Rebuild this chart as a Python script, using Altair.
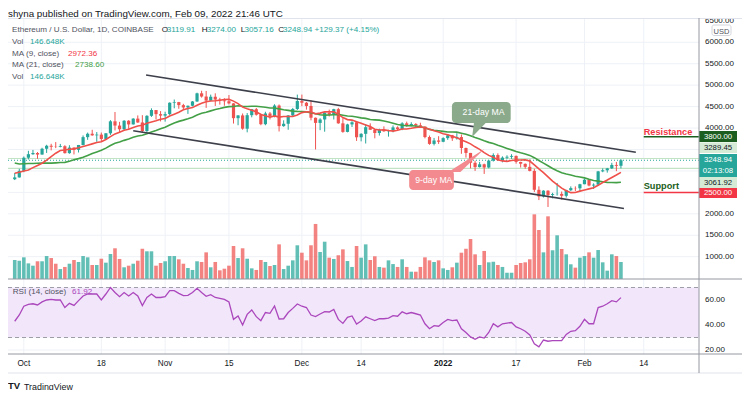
import altair as alt
import pandas as pd

# ---------------- data ----------------
first_day = "2021-09-29"
pre_first_day = "2021-09-09"
# closes before the first visible candle (only used for the moving averages)
pre_closes = [3425, 3210, 3265, 3410, 3285, 3430, 3610, 3575, 3400, 3435,
              3335, 2975, 2760, 3075, 3155, 2930, 2925, 3065, 2935, 2807]

opens = [2807, 2849,
         3001, 3308, 3390, 3418, 3382, 3517, 3587, 3563, 3558, 3576, 3415, 3544, 3492, 3605, 3788, 3867,
         3830, 3847, 3746, 3878, 4157, 4058, 3972, 4170, 4085, 4220, 4130, 3930, 4285, 4420, 4325,
         4290, 4325, 4590, 4605, 4535, 4480, 4520, 4620, 4810, 4735, 4640, 4730, 4665, 4645, 4625,
         4575, 4230, 4295, 3985, 4300, 4440, 4310, 4090, 4340, 4270, 4525, 4045, 4100, 4295, 4445,
         4630, 4590, 4515, 4240, 4120, 4200, 4360, 4310, 4440, 4110, 3910, 4085, 4135, 3785, 3865,
         4020, 3960, 3885, 3960, 3925, 3940, 4015, 3975, 4110, 4045, 4095, 4065, 4035, 3790, 3630, 3710,
         3680, 3765, 3830, 3760, 3790, 3535, 3420, 3190, 3090, 3155, 3080, 3240, 3370, 3250, 3310,
         3330, 3350, 3210, 3165, 3095, 3000, 2560, 2405, 2540, 2440, 2460, 2465, 2420, 2550, 2600, 2595,
         2690, 2795, 2660, 2680, 2990, 3015, 3060, 3140, 3119.91]
highs = [2952, 3050,
         3337, 3470, 3490, 3440, 3540, 3610, 3633, 3673, 3630, 3600, 3600, 3550, 3606, 3828, 3894, 3960,
         3907, 3895, 3880, 4185, 4375, 4145, 4185, 4185, 4230, 4295, 4300, 4300, 4460, 4420, 4395,
         4380, 4600, 4665, 4610, 4565, 4525, 4630, 4825, 4870, 4865, 4780, 4810, 4705, 4695, 4770,
         4580, 4300, 4340, 4350, 4440, 4470, 4340, 4380, 4375, 4555, 4550, 4180, 4300, 4470, 4780,
         4780, 4610, 4650, 4245, 4230, 4360, 4430, 4450, 4470, 4230, 4100, 4160, 4160, 3880, 4095,
         4110, 3965, 3985, 4040, 3960, 4060, 4040, 4135, 4150, 4135, 4115, 4125, 4040, 3825, 3770, 3810,
         3785, 3860, 3840, 3880, 3850, 3545, 3420, 3240, 3210, 3170, 3260, 3410, 3410, 3340, 3365,
         3390, 3360, 3215, 3175, 3270, 3050, 2640, 2550, 2550, 2490, 2720, 2520, 2560, 2640, 2640, 2700,
         2820, 2810, 2710, 3000, 3060, 3070, 3190, 3210, 3274.00]
lows = [2787, 2843,
        2970, 3267, 3375, 3283, 3378, 3420, 3480, 3532, 3550, 3405, 3400, 3385, 3430, 3596, 3725, 3820,
        3680, 3685, 3730, 3840, 3945, 3900, 3932, 3980, 4080, 4120, 3900, 3890, 4260, 4200, 4155,
        4150, 4300, 4460, 4450, 4430, 4330, 4505, 4610, 4710, 4470, 4630, 4515, 4545, 4520, 4550,
        4105, 4065, 3960, 3900, 4250, 4290, 4065, 4065, 4200, 4250, 3920, 4030, 3960, 4280, 4420,
        4510, 4430, 4180, 3500, 3950, 3915, 4270, 4200, 4100, 3890, 3900, 4025, 3700, 3690, 3640,
        3960, 3760, 3825, 3910, 3800, 3900, 3950, 3950, 4030, 4040, 4000, 4030, 3760, 3610, 3595, 3630,
        3670, 3725, 3700, 3730, 3400, 3310, 3060, 3000, 3080, 2930, 3060, 3220, 3235, 3200, 3275,
        3280, 3170, 3080, 3050, 2990, 2510, 2320, 2380, 2160, 2360, 2425, 2330, 2380, 2530, 2530, 2525,
        2690, 2640, 2580, 2660, 2970, 2960, 3045, 2995, 3057.16]
closes = [2849, 3001,
          3308, 3390, 3418, 3382, 3517, 3587, 3563, 3558, 3576, 3415, 3544, 3492, 3605, 3788, 3867, 3830,
          3847, 3746, 3878, 4157, 4058, 3972, 4170, 4085, 4220, 4130, 3930, 4285, 4420, 4325, 4290,
          4325, 4590, 4605, 4535, 4480, 4520, 4620, 4810, 4735, 4640, 4730, 4665, 4645, 4625, 4575,
          4230, 4295, 3985, 4300, 4440, 4310, 4090, 4340, 4270, 4525, 4045, 4100, 4295, 4445, 4630,
          4590, 4515, 4240, 4120, 4200, 4360, 4310, 4440, 4110, 3910, 4085, 4135, 3785, 3865, 4020,
          3960, 3885, 3960, 3925, 3940, 4015, 3975, 4110, 4045, 4095, 4065, 4035, 3790, 3630, 3710, 3680,
          3765, 3830, 3760, 3790, 3535, 3420, 3190, 3090, 3155, 3080, 3240, 3370, 3250, 3310, 3330,
          3350, 3210, 3165, 3095, 3000, 2560, 2405, 2540, 2440, 2460, 2465, 2420, 2550, 2600, 2595, 2690,
          2795, 2660, 2680, 2990, 3015, 3060, 3140, 3119.91, 3248.94]
volumes_k = [164, 158, 187, 135, 115, 153, 153, 198, 181, 132,
             86, 104, 132, 164, 147, 198, 187, 121, 121, 175,
             141, 216, 265, 173, 101, 115, 132, 158, 261, 239,
             239, 115, 138, 153, 198, 198, 170, 132, 95, 78,
             153, 147, 230, 101, 147, 75, 89, 115, 285, 181,
             265, 175, 92, 78, 164, 147, 112, 121, 299, 86,
             115, 161, 291, 227, 161, 291, 475, 233, 322, 184,
             173, 205, 256, 155, 104, 285, 184, 299, 164, 196,
             104, 98, 161, 129, 104, 170, 104, 63, 63, 104,
             187, 161, 147, 161, 92, 78, 101, 141, 227, 261,
             345, 213, 121, 242, 144, 149, 121,
             104, 54, 54, 121, 138, 144, 170, 558, 423, 230,
             541, 248, 377, 259, 213, 127, 98, 184, 198, 230,
             184, 250, 144, 72, 213, 198, 146.648]
rsi_values = [43, 48, 55, 56.5, 57, 56, 58.5, 60, 60.5, 60,
              60, 54, 57.3, 55.7, 59.5, 63.2, 64.8, 64.8, 64.8, 60,
              64.8, 70, 66, 62.7, 66, 63.2, 66, 63.2, 55.5, 62,
              64.8, 62, 62, 62.7, 67.5, 67.5, 65.3, 63.5, 63.7, 66,
              69.3, 66, 63, 64.3, 62, 61.3, 60.5, 58.4, 44.5, 47.2,
              40, 48.5, 52, 46.7, 43.5, 50, 49.3, 55.2, 44.8, 45,
              50, 53.3, 56.8,
              55, 54, 48, 46.7, 48.8, 50.7, 50.4, 52.5, 44.5, 41.3,
              46.1, 47.2, 40.8, 43.2, 46.5, 45, 43.5, 45, 45, 45.5,
              47.5, 47, 50.5, 49, 50, 49, 48, 41, 37, 39.5,
              39, 42, 44.5, 43.5, 44, 37, 34, 30.5, 28.5, 30.5,
              29.5, 34, 41, 38.5, 41, 41.5, 42, 38.5, 37, 35,
              32, 25, 22.5, 28, 27, 27.5, 27.5, 27.5, 32.5, 35,
              35.5, 39, 44.5, 41, 41, 54, 55, 57, 59.5, 58.5, 61.92]

tick_dates = ["2021-10-01", "2021-10-18", "2021-11-01", "2021-11-15", "2021-12-01",
              "2021-12-14", "2022-01-01", "2022-01-17", "2022-02-01", "2022-02-14"]
tick_labels = ["Oct", "18", "Nov", "15", "Dec", "14", "2022", "17", "Feb", "14"]
tick_weights = ["normal"] * 6 + ["bold"] + ["normal"] * 3
# price labels that are not hidden behind the coloured price tags
price_ticks = [1000, 1500, 2000, 4000, 4500, 5000, 5500, 6000, 6500]
price_grid = [1000, 1500, 2000, 2500, 3000, 3500, 4000, 4500, 5000, 5500, 6000]
rsi_ticks = [20, 40, 60]

channel_ids = ["upper", "upper", "lower", "lower"]
channel_dates = ["2021-10-27T19:30:00Z", "2022-02-12T06:30:00Z",
                 "2021-10-25T00:00:00Z", "2022-02-09T16:00:00Z"]
channel_prices = [5237, 3435, 3938, 2124]

# right-hand price tags: value text, displayed price, box top, box bottom, fill, text colour
tag_texts = ["3800.00", "3289.45", "3248.94", "3061.92", "2500.00"]
tag_centers = [3800, 3542, 3249, 2730, 2486]
tag_tops = [3931, 3663, 3395, 2859, 2602]
tag_bottoms = [3675, 3418, 2859, 2602, 2369]
tag_fills = ["#1b5e20", "#d5ebd6", "#26a69a", "#d5ebd6", "#f23645"]
tag_colors = ["#ffffff", "#131722", "#ffffff", "#131722", "#ffffff"]

# ---------------- geometry / scales ----------------
W, H = 691, 335
FONT = "Liberation Sans"
xs = alt.Scale(type="utc", nice=False,
               domain=[alt.DateTime(year=2021, month=9, date=28, hours=14, minutes=56, utc=True),
                       alt.DateTime(year=2022, month=2, date=25, hours=0, minutes=43, utc=True)])
ps = alt.Scale(domain=[480, 6543], range=[260, 0], nice=False, zero=False)
vs = alt.Scale(domain=[0, 2244], range=[260, 0], nice=False)
rs = alt.Scale(domain=[16.8, 76.8], range=[335, 260], nice=False, zero=False)

UP, DOWN = "#26a69a", "#ef5350"


def X(field="date"):
    return alt.X(f"{field}:T", scale=xs, axis=None)


def PY(field):
    return alt.Y(f"{field}:Q", scale=ps, axis=None)


def RY(field):
    return alt.Y(f"{field}:Q", scale=rs, axis=None)


dates = pd.date_range(first_day, periods=len(closes), freq="D").strftime("%Y-%m-%d")
candles = pd.DataFrame({"date": dates, "open": opens, "high": highs, "low": lows,
                        "close": closes, "vol": volumes_k, "rsi": rsi_values})
candles["col"] = [UP if c >= o else DOWN for o, c in zip(opens, closes)]

all_closes = pre_closes + closes
ma_df = pd.DataFrame({
    "date": pd.date_range(pre_first_day, periods=len(all_closes), freq="D").strftime("%Y-%m-%d"),
    "close": all_closes, "idx": list(range(len(all_closes)))})

one = pd.DataFrame({"k": [0]})


def label(text, x, y, color, size=8.1, weight="normal", align="left", baseline="alphabetic"):
    return alt.Chart(one).mark_text(text=text, color=color, fontSize=size, fontWeight=weight,
                                    align=align, baseline=baseline, font=FONT).encode(
        x=alt.value(x), y=alt.value(y))


def pline(x, x2, y, color, width=1.0):
    return alt.Chart(one).mark_rule(color=color, strokeWidth=width).encode(
        x=alt.value(x), x2=alt.value(x2), y=alt.value(y))


# ---------- 1. vertical grid ----------
ticks_df = pd.DataFrame({"date": tick_dates, "lab": tick_labels, "w": tick_weights})
vgrid = alt.Chart(ticks_df).mark_rule(color="#eef1f6", strokeWidth=1).encode(
    x=X(), y=alt.value(0), y2=alt.value(H))

# ---------- 2. price grid + level lines ----------
pg_df = pd.DataFrame({"p": price_grid})
levels_df = pd.DataFrame({"p": [3289.45, 3061.92]})
pgrid = alt.layer(
    alt.Chart(pg_df).mark_rule(color="#eef1f6", strokeWidth=1).encode(
        x=alt.value(0), x2=alt.value(W), y=PY("p")),
    alt.Chart(levels_df).mark_rule(color="#c3e3c5", strokeWidth=1.2).encode(
        x=alt.value(0), x2=alt.value(W), y=PY("p")),
    alt.Chart(pd.DataFrame({"p": [3248.94]})).mark_rule(
        color="#26a69a", strokeWidth=1, strokeDash=[1, 2]).encode(
        x=alt.value(0), x2=alt.value(W), y=PY("p")),
)

# ---------- 3. RSI panel ----------
band_df = pd.DataFrame({"lo": [30], "hi": [70]})
dash_df = pd.DataFrame({"v": [30, 70]})
rgrid_df = pd.DataFrame({"v": rsi_ticks})
rsi_group = alt.layer(
    alt.Chart(rgrid_df).mark_rule(color="#eef1f6").encode(
        x=alt.value(0), x2=alt.value(W), y=RY("v")),
    alt.Chart(band_df).mark_rect(color="#f2e6fb").encode(
        x=alt.value(0), x2=alt.value(W), y=RY("hi"), y2="lo:Q"),
    alt.Chart(dash_df).mark_rule(color="#9e9ea8", strokeDash=[4, 3], strokeWidth=1).encode(
        x=alt.value(0), x2=alt.value(W), y=RY("v")),
    alt.Chart(candles).mark_line(color="#ab47bc", strokeWidth=1.3).encode(x=X(), y=RY("rsi")),
    alt.Chart(rgrid_df).mark_text(align="left", baseline="middle", fontSize=8, color="#131722",
                                  font=FONT).encode(
        x=alt.value(W + 6), y=RY("v"), text=alt.Text("v:Q", format=".2f")),
)

# ---------- 4. volume ----------
vol_group = alt.Chart(candles).mark_bar(size=3.6, opacity=0.72).encode(
    x=X(), y=alt.Y("vol:Q", scale=vs, axis=None), color=alt.Color("col:N", scale=None))

# ---------- 5. price ----------
wicks = alt.Chart(candles).mark_rule(strokeWidth=1).encode(
    x=X(), y=PY("low"), y2="high:Q", color=alt.Color("col:N", scale=None))
bodies = alt.Chart(candles).mark_bar(size=3.2).encode(
    x=X(), y=PY("open"), y2="close:Q", color=alt.Color("col:N", scale=None))
ma9 = alt.Chart(ma_df).transform_window(
    ma9="mean(close)", frame=[-8, 0], sort=[alt.SortField("idx")]).transform_filter(
    "datum.idx >= 20").mark_line(color="#f0504a", strokeWidth=1.6).encode(x=X(), y=PY("ma9"))
ma21 = alt.Chart(ma_df).transform_window(
    ma21="mean(close)", frame=[-20, 0], sort=[alt.SortField("idx")]).transform_filter(
    "datum.idx >= 20").mark_line(color="#43a047", strokeWidth=1.6).encode(x=X(), y=PY("ma21"))
channel_df = pd.DataFrame({"id": channel_ids, "date": channel_dates, "p": channel_prices})
channel = alt.Chart(channel_df).mark_line(color="#3d404a", strokeWidth=1.6).encode(
    x=X(), y=PY("p"), detail="id:N")

box_df = pd.DataFrame({
    "d1": ["2022-01-02T22:05:00Z", "2021-12-24T13:00:00Z"],
    "d2": ["2022-01-15T19:26:00Z", "2022-01-03T08:24:00Z"],
    "p1": [4608, 3022], "p2": [4118, 2556],
    "fill": ["#8ba98b", "#f28a8f"]})
boxes = alt.Chart(box_df).mark_rect(cornerRadius=4).encode(
    x=alt.X("d1:T", scale=xs, axis=None), x2="d2:T", y=PY("p1"), y2="p2:Q",
    color=alt.Color("fill:N", scale=None))
ptr21 = alt.Chart(pd.DataFrame({"date": ["2022-01-09T00:00:00Z"], "p": [3966]})).mark_point(
    shape="M -0.69 -1 L 0.94 -1 L -0.94 0.94 Z", size=256, filled=True, opacity=1,
    color="#8ba98b", strokeWidth=0).encode(x=X(), y=PY("p"))
ptr9 = alt.Chart(pd.DataFrame({"date": ["2022-01-06T02:00:00Z"], "p": [3255]})).mark_point(
    shape="M -1 0.66 L -0.33 0.66 L 1 -0.61 Z", size=1296, filled=True, opacity=1,
    color="#f28a8f", strokeWidth=0).encode(x=X(), y=PY("p"))
box_text_df = pd.DataFrame({"date": ["2022-01-09T20:40:00Z", "2021-12-29T22:50:00Z"],
                            "p": [4363, 2791], "t": ["21-day MA", "9-day MA"]})
box_texts = alt.Chart(box_text_df).mark_text(color="white", fontSize=8.7, baseline="middle",
                                             align="center", font=FONT).encode(
    x=X(), y=PY("p"), text="t:N")

sr_df = pd.DataFrame({"date": ["2022-02-14", "2022-02-14"], "p": [3800, 2500],
                      "c": ["#1b5e20", "#f23645"]})
sr_lines = alt.Chart(sr_df).mark_rule(strokeWidth=1.5).encode(
    x=X(), x2=alt.value(W), y=PY("p"), color=alt.Color("c:N", scale=None))
sr_text_df = pd.DataFrame({"date": ["2022-02-14", "2022-02-14"], "p": [3848, 2579],
                           "t": ["Resistance", "Support"], "c": ["#f23645", "#1b5e20"]})
sr_texts = alt.Chart(sr_text_df).mark_text(fontSize=9.2, fontWeight="bold", align="left",
                                           baseline="alphabetic", font=FONT).encode(
    x=X(), y=PY("p"), text="t:N", color=alt.Color("c:N", scale=None))

ptick_df = pd.DataFrame({"p": price_ticks})
price_labels = alt.Chart(ptick_df).mark_text(align="left", baseline="middle", fontSize=8,
                                             color="#131722", font=FONT).encode(
    x=alt.value(W + 6), y=PY("p"), text=alt.Text("p:Q", format=".2f"))

tags_df = pd.DataFrame({"t": tag_texts, "pc": tag_centers, "pt": tag_tops, "pb": tag_bottoms,
                        "f": tag_fills, "tc": tag_colors})
tag_boxes = alt.Chart(tags_df).mark_rect().encode(
    x=alt.value(W), x2=alt.value(W + 38), y=PY("pt"), y2="pb:Q",
    color=alt.Color("f:N", scale=None))
tag_texts_l = alt.Chart(tags_df).mark_text(align="center", baseline="middle", fontSize=7.8,
                                           font=FONT).encode(
    x=alt.value(W + 19), y=PY("pc"), text="t:N", color=alt.Color("tc:N", scale=None))
timer = alt.Chart(pd.DataFrame({"p": [2987], "t": ["02:13:08"]})).mark_text(
    align="center", baseline="middle", fontSize=7.8, color="white", font=FONT).encode(
    x=alt.value(W + 19), y=PY("p"), text="t:N")

price_group = alt.layer(wicks, bodies, ma21, ma9, channel, boxes, ptr21, ptr9, box_texts,
                        sr_lines, sr_texts, price_labels, tag_boxes, tag_texts_l, timer)

# ---------- 6. overlay: frame, legends, time labels ----------
GRAY, TEAL = "#50535e", "#26a69a"
time_normal = alt.Chart(ticks_df).transform_filter("datum.w == 'normal'").mark_text(
    baseline="middle", align="center", fontSize=8.2, color="#131722", font=FONT).encode(
    x=X(), y=alt.value(345), text="lab:N")
time_bold = alt.Chart(ticks_df).transform_filter("datum.w == 'bold'").mark_text(
    baseline="middle", align="center", fontSize=8.2, color="#131722", font=FONT,
    fontWeight="bold").encode(x=X(), y=alt.value(345), text="lab:N")

usd_box = alt.Chart(one).mark_rect(fill="white", stroke="#c9ccd4", strokeWidth=0.8,
                                   cornerRadius=2).encode(
    x=alt.value(W + 13), x2=alt.value(W + 32), y=alt.value(6), y2=alt.value(16.5))

overlay = alt.layer(
    pline(0, W + 43, -0.5, "#e0e3eb"),
    pline(0, W + 43, 354, "#e0e3eb"),
    pline(0, W + 43, 260, "#9598a1"),
    pline(0, W + 43, 335, "#9598a1"),
    alt.Chart(one).mark_rule(color="#9598a1", strokeWidth=1).encode(
        x=alt.value(W), y=alt.value(-1), y2=alt.value(354)),
    usd_box,
    label("USD", W + 22.5, 14.5, "#50535e", size=7.5, align="center"),
    time_normal, time_bold,
    label("shyna published on TradingView.com, Feb 09, 2022 21:46 UTC", 0, -2.2, "#131722",
          size=9.8),
    label("Ethereum / U.S. Dollar, 1D, COINBASE", 4, 13, GRAY),
    label("O", 153.7, 13, "#131722"), label("3119.91", 158.7, 13, TEAL),
    label("H", 193.7, 13, "#131722"), label("3274.00", 198.7, 13, TEAL),
    label("L", 232.7, 13, "#131722"), label("3057.16", 236.5, 13, TEAL),
    label("C", 270.3, 13, "#131722"), label("3248.94 +129.37 (+4.15%)", 275, 13, TEAL),
    label("Vol", 4, 25, GRAY), label("146.648K", 22, 25, TEAL),
    label("MA (9, close)", 4, 36.7, GRAY), label("2972.36", 60, 36.7, "#f23645"),
    label("MA (21, close)", 4, 48.3, GRAY), label("2738.60", 67, 48.3, "#43a047"),
    label("Vol", 4, 60, GRAY), label("146.648K", 22, 60, TEAL),
    label("RSI (14, close)", 4.7, 274.5, GRAY), label("61.92", 64, 274.5, "#ab47bc"),
    label("TV", 0, 370, "#131722", size=9.5, weight="bold"),
    label("TradingView", 16, 370.5, "#131722", size=8.9),
)

chart = alt.layer(vgrid, pgrid, rsi_group, vol_group, price_group, overlay).resolve_scale(
    y="independent").properties(
    width=W, height=H,
    autosize=alt.AutoSizeParams(type="none"),
    padding={"left": 0, "top": 11, "right": 43, "bottom": 36},
    background="white",
).configure_view(stroke=None).configure_text(font=FONT)

chart.save("out.html", embed_options={"renderer": "svg", "actions": False})
